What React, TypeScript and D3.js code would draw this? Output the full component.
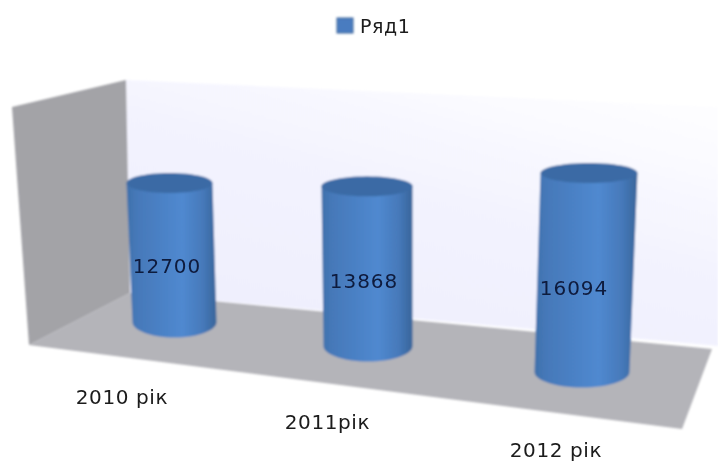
import { useEffect, useRef } from "react";
import * as d3 from "d3";

const categories = ["2010 рік", "2011рік", "2012 рік"];
const values = [12700, 13868, 16094];
const seriesName = "Ряд1";

const width = 718;
const height = 463;

type Pt = [number, number];

export default function App() {
  const svgRef = useRef<SVGSVGElement>(null);

  useEffect(() => {
    if (!svgRef.current) return;
    const svg = d3.select(svgRef.current);
    svg.selectAll("*").remove();

    const defs = svg.append("defs");
    defs.append("filter").attr("id", "soft")
      .append("feGaussianBlur").attr("stdDeviation", 0.8);
    defs.append("filter").attr("id", "softText")
      .append("feGaussianBlur").attr("stdDeviation", 0.35);

    const body = defs.append("linearGradient").attr("id", "body");
    [[0, "#3f70aa"], [0.1, "#4578b8"], [0.35, "#4a80c4"], [0.62, "#5089d0"], [0.85, "#4679ba"], [1, "#38659a"]]
      .forEach(([o, c]) => body.append("stop").attr("offset", o as number).attr("stop-color", c as string));

    const wallGrad = defs.append("linearGradient").attr("id", "wall")
      .attr("x1", 0.1).attr("y1", 1).attr("x2", 0.7).attr("y2", 0);
    wallGrad.append("stop").attr("offset", 0).attr("stop-color", "#eeeefd");
    wallGrad.append("stop").attr("offset", 0.6).attr("stop-color", "#f3f3fe");
    wallGrad.append("stop").attr("offset", 1).attr("stop-color", "#fdfdff");

    const poly = d3.line<Pt>().curve(d3.curveLinearClosed);
    const plot = svg.append("g").attr("filter", "url(#soft)");

    // стіни та підлога
    plot.append("path")
      .attr("d", poly([[126, 80], [718, 107], [718, 346], [130, 293]]))
      .attr("fill", "url(#wall)");
    plot.append("path")
      .attr("d", poly([[12, 107], [126, 80], [130, 293], [29, 345]]))
      .attr("fill", "#a3a3a7");
    plot.append("path")
      .attr("d", poly([[29, 345], [130, 293], [712, 349], [682, 429]]))
      .attr("fill", "#b4b4b9");

    // проекція: індекс категорії -> положення на екрані
    const idx = categories.map((_, i) => i);
    const baseX = d3.scaleLinear().domain([0, 1, 2]).range([174.5, 368, 582]);
    const lean = d3.scaleLinear().domain([0, 1, 2]).range([-5, -1, 7]);
    const baseY = d3.scaleLinear().domain([0, 1, 2]).range([322, 346, 372]);
    const radius = d3.scaleLinear().domain([0, 1, 2]).range([42, 44.5, 47.5]);
    const labelX = d3.scaleLinear().domain([0, 1, 2]).range([167, 364, 574]);
    const labelY = d3.scaleLinear().domain([0, 1, 2]).range([273, 288, 295]);
    const catX = d3.scaleLinear().domain([0, 1, 2]).range([122, 327.5, 556]);
    const catY = d3.scaleLinear().domain([0, 1, 2]).range([404, 429, 457]);

    const barH = d3.scaleLinear().domain([12700, 16094]).range([139, 199]);
    const line = d3.line<Pt>();

    idx.forEach(i => {
      const r = radius(i);
      const bx = baseX(i), by = baseY(i);
      const tx = bx + lean(i), ty = by - barH(values[i]);
      const ryTop = 10, ryBase = 15.5;

      const g = plot.append("g");
      const bottomArc: Pt[] = d3.range(0, 181, 6).map(a => {
        const t = (a * Math.PI) / 180;
        return [bx + r * Math.cos(t), by + ryBase * Math.sin(t)];
      });
      const topEllipse: Pt[] = d3.range(0, 361, 6).map(a => {
        const t = (a * Math.PI) / 180;
        return [tx + (r + 1) * Math.cos(t), ty + ryTop * Math.sin(t)];
      });
      const outline: Pt[] = [[tx + r + 1, ty], ...bottomArc, [tx - r - 1, ty]];

      g.append("path").attr("d", line(outline) + "Z").attr("fill", "url(#body)");
      g.append("path").attr("d", line(topEllipse) + "Z").attr("fill", "#3b6ba5");
    });

    const labels = svg.append("g").attr("filter", "url(#softText)");

    // підписи значень
    labels.append("g").selectAll("text").data(idx).join("text")
      .attr("x", i => labelX(i))
      .attr("y", i => labelY(i))
      .attr("text-anchor", "middle")
      .attr("font-family", "DejaVu Sans")
      .attr("font-size", 20)
      .attr("letter-spacing", 1)
      .attr("fill", "#0e1a3c")
      .text(i => values[i]);

    // підписи категорій
    labels.append("g").selectAll("text").data(idx).join("text")
      .attr("x", i => catX(i))
      .attr("y", i => catY(i))
      .attr("text-anchor", "middle")
      .attr("font-family", "DejaVu Sans")
      .attr("font-size", 20)
      .attr("letter-spacing", 0.6)
      .attr("fill", "#1a1a1a")
      .text(i => categories[i]);

    // легенда
    plot.append("rect")
      .attr("x", 337).attr("y", 18).attr("width", 16).attr("height", 15)
      .attr("fill", "#4a7cc0").attr("stroke", "#3a6296");
    labels.append("text")
      .attr("x", 360).attr("y", 33)
      .attr("font-family", "DejaVu Sans")
      .attr("font-size", 19)
      .attr("letter-spacing", 0.6)
      .attr("fill", "#1a1a1a")
      .text(seriesName);
  }, []);

  return (
    <svg ref={svgRef} width={width} height={height}
      style={{ position: "absolute", left: 0, top: 0, background: "#fff" }} />
  );
}
